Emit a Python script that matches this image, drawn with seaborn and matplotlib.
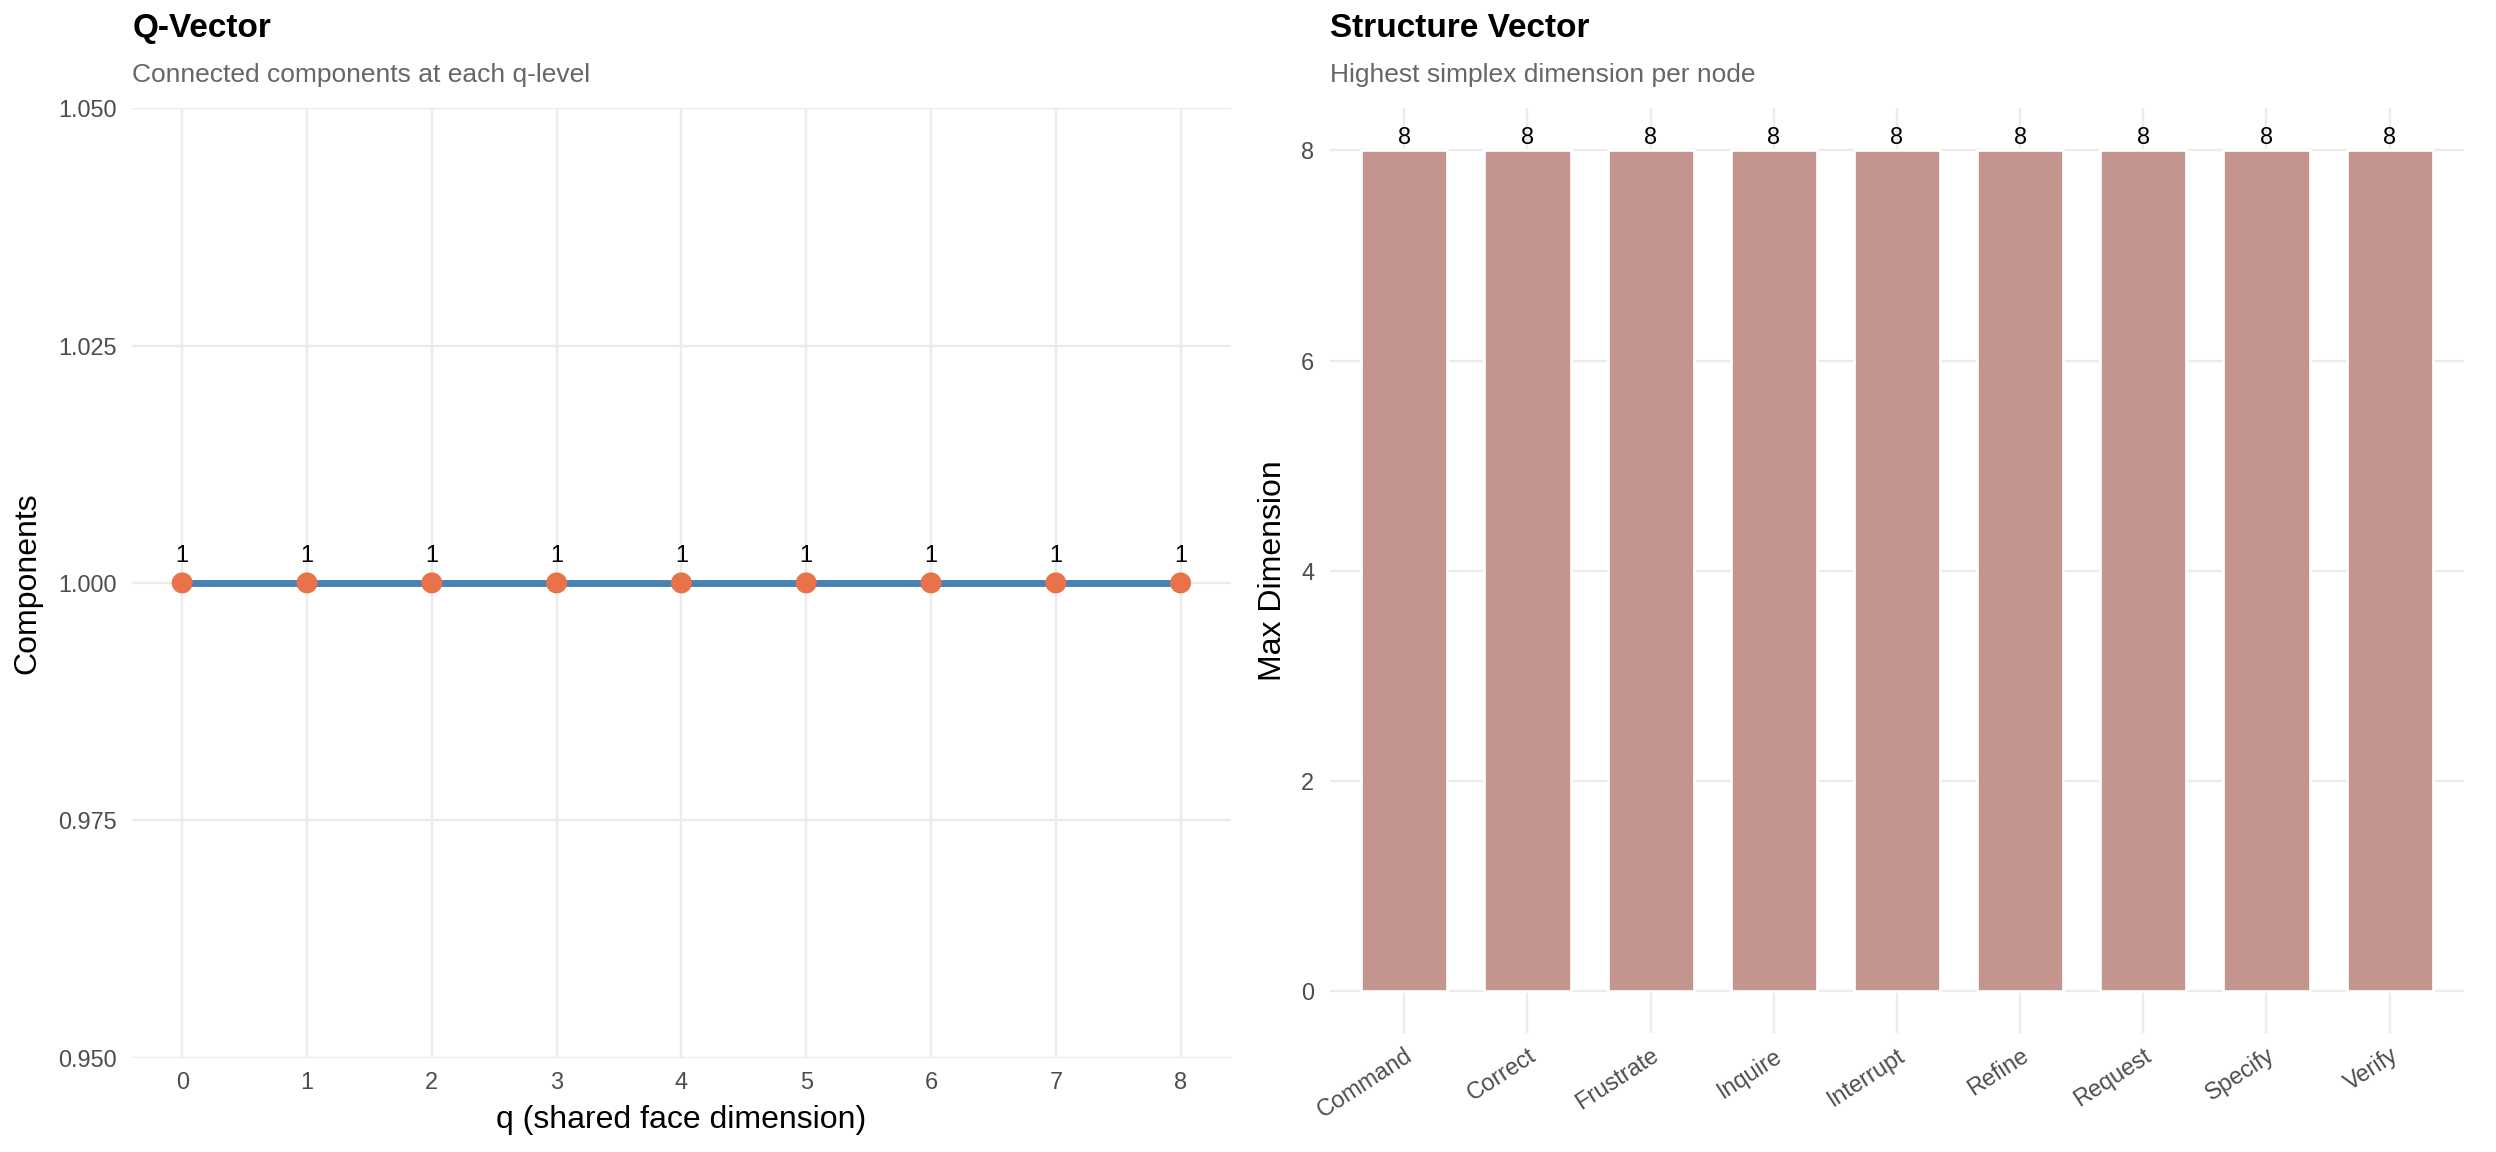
import matplotlib
matplotlib.use('Agg')
import matplotlib.pyplot as plt
import pandas as pd
import seaborn as sns

# data
q_levels = [0, 1, 2, 3, 4, 5, 6, 7, 8]
components = [1, 1, 1, 1, 1, 1, 1, 1, 1]
nodes = ['Command', 'Correct', 'Frustrate', 'Inquire', 'Interrupt',
         'Refine', 'Request', 'Specify', 'Verify']
max_dims = [8, 8, 8, 8, 8, 8, 8, 8, 8]

line_col = '#4682B4'
point_col = '#E8734A'
bar_col = '#C4948E'
grid_col = '#EBEBEB'
tick_col = '#4D4D4D'

sns.set_style('white')
plt.rcParams['font.family'] = ['Liberation Sans', 'DejaVu Sans']
plt.rcParams['text.color'] = 'black'
plt.rcParams['axes.labelcolor'] = 'black'


def style_axes(ax):
    for s in ax.spines.values():
        s.set_visible(False)
    ax.grid(True, color=grid_col, linewidth=0.9)
    ax.set_axisbelow(True)
    ax.tick_params(length=0, labelsize=8.8, labelcolor=tick_col)


def main():
    fig = plt.figure(figsize=(13, 6), dpi=192)
    ax1 = fig.add_axes([0.053, 0.082, 0.44, 0.824])
    ax2 = fig.add_axes([0.533, 0.103, 0.454, 0.803])

    # --- Q-vector
    dq = pd.DataFrame({'q': q_levels, 'comp': components})
    sns.lineplot(data=dq, x='q', y='comp', color=line_col, linewidth=2.6, ax=ax1, zorder=2)
    sns.scatterplot(data=dq, x='q', y='comp', color=point_col, s=62,
                    edgecolor='none', ax=ax1, zorder=3)
    for x, y in zip(dq['q'], dq['comp']):
        ax1.annotate(str(y), (x, y), xytext=(0, 8), textcoords='offset points',
                     ha='center', va='baseline', fontsize=8.8, color='black')
    style_axes(ax1)
    ax1.set_xlim(-0.4, 8.4)
    ax1.set_ylim(0.95, 1.05)
    ax1.set_xticks(q_levels)
    yt = [0.95, 0.975, 1.0, 1.025, 1.05]
    ax1.set_yticks(yt)
    ax1.set_yticklabels(['%.3f' % v for v in yt])
    ax1.tick_params(axis='y', pad=6)
    ax1.tick_params(axis='x', pad=5)
    ax1.set_xlabel('q (shared face dimension)', fontsize=12, color='black')
    ax1.set_ylabel('Components', fontsize=12, color='black')
    ax1.xaxis.set_label_coords(0.5, -0.05)
    ax1.yaxis.set_label_coords(-0.082, 0.5)

    # --- structure vector
    ds = pd.DataFrame({'node': nodes, 'dim': max_dims})
    sns.barplot(data=ds, x='node', y='dim', color=bar_col, saturation=1,
                width=0.7, ax=ax2, zorder=2)
    for i, v in enumerate(ds['dim']):
        ax2.annotate(str(v), (i, v), xytext=(0, 2.5), textcoords='offset points',
                     ha='center', va='baseline', fontsize=8.8, color='black')
    style_axes(ax2)
    ax2.set_xlim(-0.6, 8.6)
    ax2.set_ylim(-0.4, 8.4)
    ax2.set_yticks([0, 2, 4, 6, 8])
    ax2.tick_params(axis='y', pad=6)
    ax2.tick_params(axis='x', pad=4)
    for lab in ax2.get_xticklabels():
        lab.set_rotation(33)
        lab.set_ha('right')
        lab.set_va('top')
        lab.set_rotation_mode('anchor')
    ax2.set_xlabel('')
    ax2.set_ylabel('Max Dimension', fontsize=12, color='black')
    ax2.yaxis.set_label_coords(-0.037, 0.5)

    # titles
    fig.text(0.053, 0.975, 'Q-Vector', fontsize=12.5, fontweight='bold',
             va='center', color='black')
    fig.text(0.053, 0.935, 'Connected components at each q-level', fontsize=9.9,
             color='#666666', va='center')
    fig.text(0.533, 0.975, 'Structure Vector', fontsize=12.5, fontweight='bold',
             va='center', color='black')
    fig.text(0.533, 0.935, 'Highest simplex dimension per node', fontsize=9.9,
             color='#666666', va='center')

    fig.savefig('out.png', dpi=192, facecolor='white')


main()
